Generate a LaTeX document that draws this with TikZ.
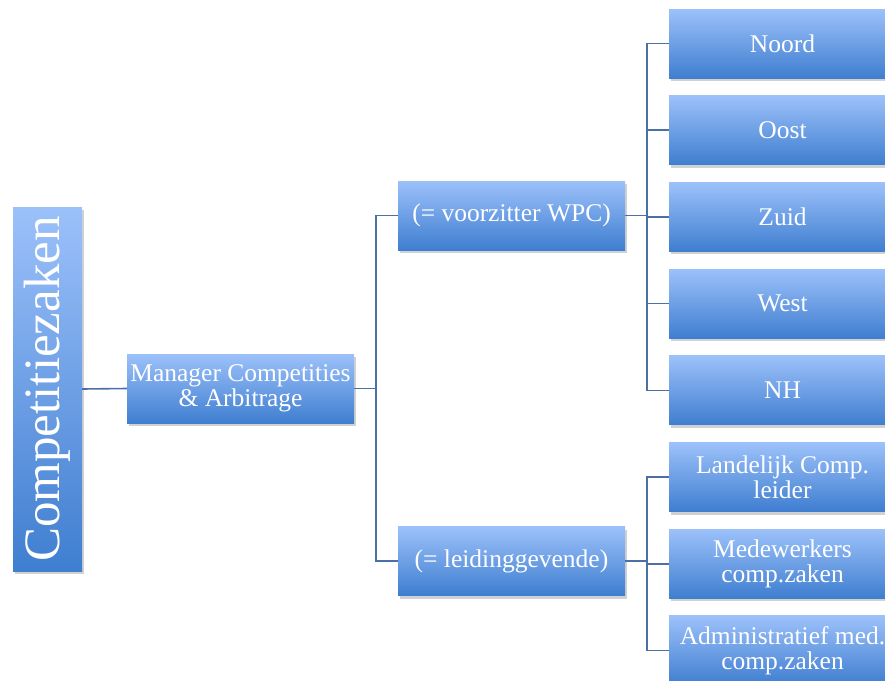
\documentclass[tikz,border=0pt]{standalone}
\usepackage{fontspec}
\setmainfont{Liberation Serif}
\usepackage{tikz}
\usetikzlibrary{positioning,shadows,calc}

\definecolor{boxtop}{HTML}{9CC1FA}
\definecolor{boxbot}{HTML}{3F7ED0}
\definecolor{linkblue}{HTML}{4A70A6}

\begin{document}
\begin{tikzpicture}[x=1pt, y=-1pt,
    orgbox/.style={rectangle, top color=boxtop, bottom color=boxbot, text=white,
        minimum width=227pt, minimum height=69pt, inner sep=2pt, align=center,
        font=\fontsize{25.5}{25}\selectfont,
        drop shadow={shadow xshift=2pt, shadow yshift=-3pt, opacity=0.3, fill=black!60}},
    link/.style={draw=linkblue, line width=1.6pt},
    node distance=17.3pt]
    \useasboundingbox (0,0) rectangle (885,680);
    \clip (0,0) rectangle (885,680);

    % Root and manager
    \node (comp) [orgbox, minimum width=69pt, minimum height=364pt] at (47.5,389)
        {\rotatebox{90}{\raisebox{-3pt}{\fontsize{51}{52}\selectfont Competitiezaken}}};
    \node (mgr) [orgbox] at (240.5,388.5) {Manager Competities\\\& Arbitrage};

    % Second level
    \node (wpc) [orgbox] at (511.5,215.5) {(= voorzitter WPC)};
    \node (lead) [orgbox] at (511.5,561) {(= leidinggevende)};

    % Regions
    \node (noord) [orgbox] at (782.5,43.5) {Noord};
    \node (oost) [orgbox, below=of noord] {Oost};
    \node (zuid) [orgbox, below=of oost] {Zuid};
    \node (west) [orgbox, below=of zuid] {West};
    \node (nh) [orgbox, below=of west] {NH};

    % Staff
    \node (landelijk) [orgbox, below=of nh] {Landelijk Comp.\\leider};
    \node (medew) [orgbox, below=of landelijk] {Medewerkers\\comp.zaken};
    \node (admin) [orgbox, below=of medew] {Administratief med.\\comp.zaken};

    % Connectors
    \draw [link] (comp.east) -- (mgr.west);
    \foreach \n in {wpc,lead}
        \draw [link] (mgr.east) -- ++(22,0) |- (\n.west);
    \foreach \n in {noord,oost,zuid,west,nh}
        \draw [link] (wpc.east) -- ++(22,0) |- (\n.west);
    \foreach \n in {landelijk,medew,admin}
        \draw [link] (lead.east) -- ++(22,0) |- (\n.west);
\end{tikzpicture}
\end{document}
